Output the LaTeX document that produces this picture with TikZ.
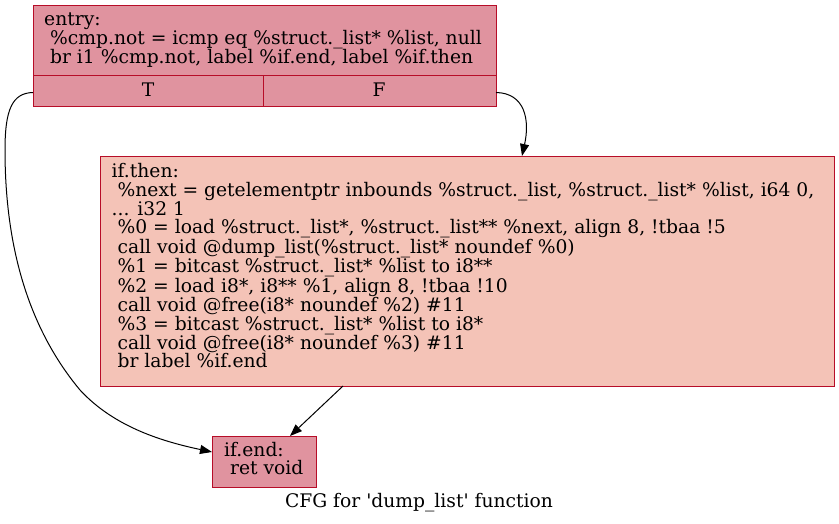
\documentclass[tikz,border=0pt]{standalone}
\usepackage{fontspec}
\setmainfont{DejaVu Serif}
\usetikzlibrary{arrows.meta}
\definecolor{bord}{HTML}{B70D28}
\definecolor{fillA}{HTML}{E0939F}
\definecolor{fillB}{HTML}{F4C3B7}
\tikzset{
  blk/.style={draw=bord, line width=1pt, anchor=north west, inner sep=0pt, minimum width=#1},
  txt/.style={anchor=north west, align=left, inner sep=0pt, font=\fontsize{18.7}{18.2}\selectfont},
  edge/.style={draw=black, line width=1pt, -{Triangle[length=12pt,width=9pt]}},
}
\begin{document}
\begin{tikzpicture}[x=1pt,y=-1pt]
\useasboundingbox (0,0) rectangle (839,524);
% entry
\node[blk=463pt, fill=fillA, minimum height=101pt] (entry) at (33,5) {};
\draw[bord, line width=1pt] (33,76) -- (496,76) (263,76) -- (263,106);
\node[txt, font=\fontsize{18.7}{19}\selectfont] (entrytxt) at (44,13) {entry:\\\ \%cmp.not = icmp eq \%struct.\_list* \%list, null\\\ br i1 \%cmp.not, label \%if.end, label \%if.then};
\node[txt, anchor=base] (tlab) at (148,97) {T};
\node[txt, anchor=base] (flab) at (379,97) {F};
\coordinate (tport) at (33,92.5);
\coordinate (fport) at (496,92.5);
% if.then
\node[blk=734pt, fill=fillB, minimum height=230pt] (ifthen) at (100,156) {};
\node[txt] (thentxt) at (111.5,163.5) {if.then:\\\ \%next = getelementptr inbounds \%struct.\_list, \%struct.\_list* \%list, i64 0,\\... i32 1\\\ \%0 = load \%struct.\_list*, \%struct.\_list** \%next, align 8, !tbaa !5\\\ call void @dump\_list(\%struct.\_list* noundef \%0)\\\ \%1 = bitcast \%struct.\_list* \%list to i8**\\\ \%2 = load i8*, i8** \%1, align 8, !tbaa !10\\\ call void @free(i8* noundef \%2) \#11\\\ \%3 = bitcast \%struct.\_list* \%list to i8*\\\ call void @free(i8* noundef \%3) \#11\\\ br label \%if.end};
% if.end
\node[blk=104pt, fill=fillA, minimum height=51pt] (ifend) at (212,436) {};
\node[txt] (endtxt) at (224,442) {if.end:\\\ ret void};
% caption
\node[txt, anchor=base] (cap) at (419,507.5) {CFG for \textquotesingle dump\_list\textquotesingle{} function};
% edges
\coordinate (endin) at (212,452);
\coordinate (thenin) at (522,156);
\coordinate (thenout) at (343,386);
\coordinate (endtop) at (290,436);
\draw[edge] (tport) .. controls (12,93) and (5,110) .. (5,150) .. controls (5,250) and (30,330) .. (80,390) .. controls (115,428) and (165,442) .. (endin);
\draw[edge] (fport) .. controls (525,93) and (530,120) .. (thenin);
\draw[edge] (thenout) -- (endtop);
\end{tikzpicture}
\end{document}
